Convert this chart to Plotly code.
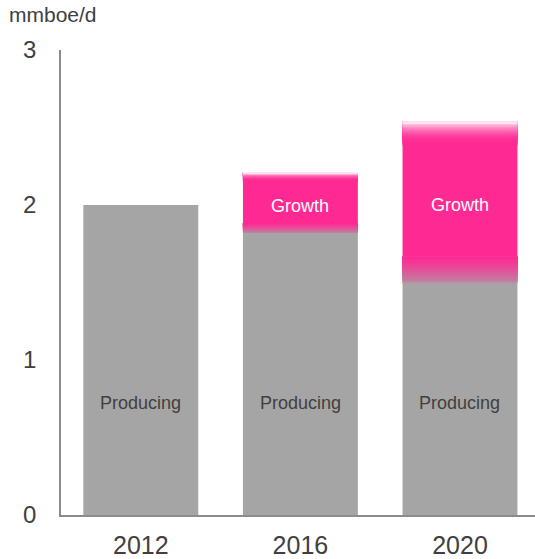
import plotly.graph_objects as go

# Output by year, mmboe/d
years = ["2012", "2016", "2020"]
producing = [2.0, 1.82, 1.50]
growth = [0.0, 0.39, 1.04]

GRAY = "#A5A5A5"
PINK = "#FF2993"
WHITE = "#FFFFFF"
TEXT = "#404040"
BAR_W = 0.72


def mix(c1, c2, t):
    a = [int(c1[i:i + 2], 16) for i in (1, 3, 5)]
    b = [int(c2[i:i + 2], 16) for i in (1, 3, 5)]
    return "rgb({},{},{})".format(*[round(a[k] + (b[k] - a[k]) * t) for k in range(3)])


fig = go.Figure()

# existing production
fig.add_trace(go.Bar(x=years, y=producing, marker_color=GRAY, width=BAR_W,
                     marker_line_width=0, hoverinfo="skip"))

# growth block: soft lower edge blending from gray, solid core, soft upper edge
tot = [p + g for p, g in zip(producing, growth)]
fb = [g * 0.16 for g in growth]   # lower blend depth
ft = [g * 0.15 for g in growth]   # upper blend depth
fig.add_trace(go.Bar(x=years, y=growth, base=producing, marker_color=PINK, width=BAR_W,
                     marker_line_width=0, hoverinfo="skip"))

K = 14
for i in range(K):
    # lower blend: each slice runs up to the solid core so slices overlap without seams
    fig.add_trace(go.Bar(x=years, y=[b * (K - i) / K for b in fb],
                         base=[p + b * i / K for p, b in zip(producing, fb)],
                         marker_color=mix(GRAY, PINK, 0.25 + 0.75 * (i / (K - 1)) ** 0.8),
                         width=BAR_W, marker_line_width=0, hoverinfo="skip"))
for i in range(K):
    # upper blend: slices stacked from the core upward to the top edge
    fig.add_trace(go.Bar(x=years, y=[t * (K - i) / K for t in ft],
                         base=[s - t + t * i / K for s, t in zip(tot, ft)],
                         marker_color=mix(PINK, WHITE, (i / (K - 1)) ** 2.2 * 0.88), width=BAR_W,
                         marker_line_width=0, hoverinfo="skip"))

annotations = []
for i, p in enumerate(producing):
    annotations.append(dict(x=i, y=0.72, text="Producing", showarrow=False,
                            font=dict(size=18, color=TEXT)))
for i, (p, g) in enumerate(zip(producing, growth)):
    if g > 0:
        annotations.append(dict(x=i, y=p + g / 2, yshift=-3, text="Growth", showarrow=False,
                                font=dict(size=18, color="white")))
annotations.append(dict(xref="paper", yref="paper", x=-0.113, y=1.0, yshift=36,
                        xanchor="left", yanchor="middle", text="mmboe/d",
                        showarrow=False, font=dict(size=21, color=TEXT)))

fig.update_layout(
    barmode="overlay",
    showlegend=False,
    width=535, height=559,
    margin=dict(l=61, r=0, t=50, b=44),
    paper_bgcolor="white", plot_bgcolor="white",
    font=dict(family="Liberation Sans, Arial, sans-serif", color=TEXT),
    annotations=annotations,
    xaxis=dict(type="category", range=[-0.5, 2.47], showgrid=False,
               showline=True, linecolor="#8C8C8C", linewidth=1.5,
               ticks="", tickfont=dict(size=25, color=TEXT), ticklabelstandoff=7),
    yaxis=dict(range=[0, 3], tickvals=[0, 1, 2, 3], showgrid=False, zeroline=False,
               showline=True, linecolor="#8C8C8C", linewidth=1.5,
               ticks="", tickfont=dict(size=24, color=TEXT), ticklabelstandoff=18),
)

fig.write_html("out.html")
